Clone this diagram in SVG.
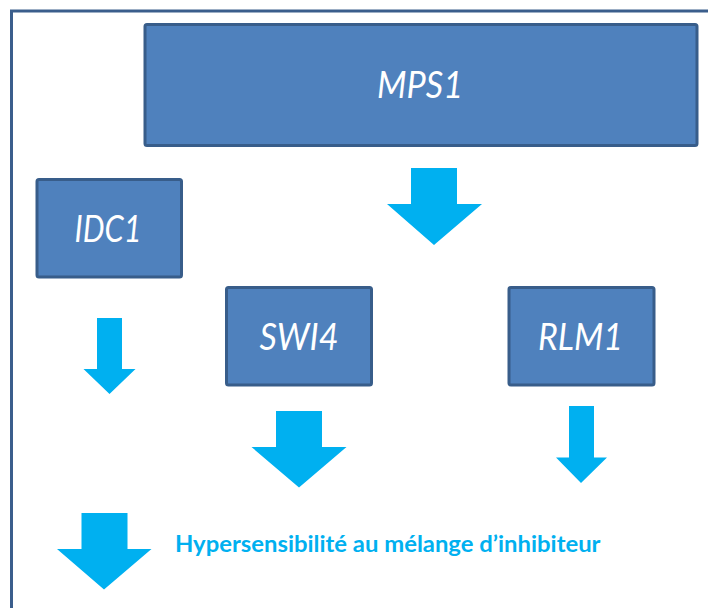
<svg xmlns="http://www.w3.org/2000/svg" width="708" height="608" viewBox="0 0 708 608">
<style>
.box{fill:#4f81bd;stroke:#385d8a;stroke-width:3}
.lbl{font-family:Lato,"Liberation Sans",sans-serif;font-style:italic;font-size:36px;fill:#ffffff;text-anchor:middle}
.arr{fill:#00b0f0}
.note{font-family:Lato,"Liberation Sans",sans-serif;font-weight:bold;font-size:22px;fill:#00b0f0}
</style>
<rect x="0" y="0" width="708" height="608" fill="#ffffff"/>
<rect x="11.5" y="11" width="720" height="620" fill="none" stroke="#3b5e8c" stroke-width="3"/>
<g id="MPS1">
<rect class="box" x="145" y="24.5" width="552" height="121" rx="2"/>
<text class="lbl" x="420" y="98" textLength="86" lengthAdjust="spacingAndGlyphs">MPS1</text>
</g>
<g id="IDC1">
<rect class="box" x="37" y="179.5" width="144.5" height="97.5" rx="2"/>
<text class="lbl" x="108" y="241.5" textLength="67" lengthAdjust="spacingAndGlyphs">IDC1</text>
</g>
<g id="SWI4">
<rect class="box" x="226.5" y="287.5" width="145" height="97.5" rx="2"/>
<text class="lbl" x="299" y="350" textLength="79" lengthAdjust="spacingAndGlyphs">SWI4</text>
</g>
<g id="RLM1">
<rect class="box" x="509" y="287.5" width="145" height="97.5" rx="2"/>
<text class="lbl" x="580.5" y="350" textLength="85" lengthAdjust="spacingAndGlyphs">RLM1</text>
</g>
<g id="connectors">
<polygon class="arr" points="411,168 457,168 457,204 482,204 434,245 387,204 411,204"/>
<polygon class="arr" points="97,318 122,318 122,369 135.5,369 109.5,394 83.5,369 97,369"/>
<polygon class="arr" points="276,411 322,411 322,447 346.5,447 299,487.5 251.5,447 276,447"/>
<polygon class="arr" points="569,406 594,406 594,457.5 607,457.5 581,483 556,457.5 569,457.5"/>
<polygon class="arr" points="81.5,513 127.5,513 127.5,549 151.5,549 104,589.5 57,549 81.5,549"/>
</g>
<g id="note">
<text class="note" x="175" y="552" textLength="425.5" lengthAdjust="spacingAndGlyphs">Hypersensibilité au mélange d’inhibiteur</text>
</g>
</svg>
